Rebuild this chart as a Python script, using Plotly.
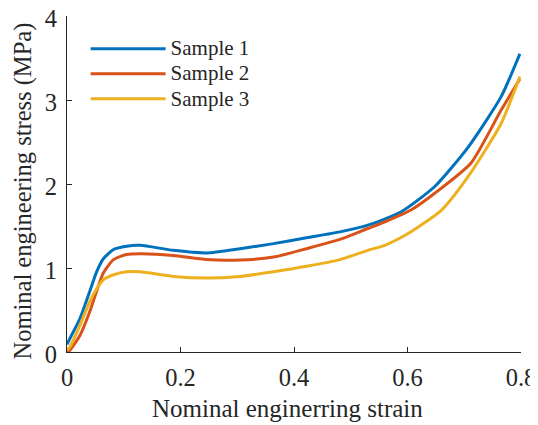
import plotly.graph_objects as go

series_names = ["Sample 1", "Sample 2", "Sample 3"]
colors = ["#0072BD", "#D95319", "#EDB120"]

x1 = [0, 0.005, 0.023, 0.040, 0.052, 0.064, 0.082, 0.105, 0.129, 0.187, 0.246, 0.305, 0.364, 0.422, 0.481, 0.53, 0.589, 0.648, 0.707, 0.765, 0.798]
y1 = [0.09, 0.16, 0.40, 0.72, 0.95, 1.11, 1.22, 1.26, 1.27, 1.21, 1.18, 1.23, 1.29, 1.36, 1.43, 1.51, 1.67, 1.97, 2.44, 3.04, 3.55]

x2 = [0, 0.005, 0.023, 0.040, 0.052, 0.064, 0.082, 0.105, 0.129, 0.187, 0.246, 0.305, 0.364, 0.422, 0.481, 0.53, 0.56, 0.606, 0.648, 0.712, 0.765, 0.798]
y2 = [0, 0.02, 0.20, 0.48, 0.72, 0.94, 1.10, 1.16, 1.17, 1.15, 1.10, 1.095, 1.13, 1.23, 1.34, 1.47, 1.55, 1.69, 1.89, 2.25, 2.88, 3.25]

x3 = [0, 0.005, 0.023, 0.040, 0.052, 0.064, 0.082, 0.105, 0.129, 0.187, 0.246, 0.305, 0.364, 0.422, 0.481, 0.53, 0.56, 0.601, 0.66, 0.707, 0.765, 0.798]
y3 = [0.02, 0.06, 0.32, 0.60, 0.75, 0.86, 0.92, 0.955, 0.955, 0.90, 0.88, 0.90, 0.955, 1.02, 1.10, 1.21, 1.27, 1.41, 1.69, 2.09, 2.72, 3.28]

x_ticks = [0, 0.2, 0.4, 0.6, 0.8]
x_tick_labels = ["0", "0.2", "0.4", "0.6", "0.8"]
y_ticks = [0, 1, 2, 3, 4]
y_tick_labels = ["0", "1", "2", "3", "4"]

x_title = "Nominal enginerring strain"
y_title = "Nominal engineering stress (MPa)"

FONT = "Liberation Serif, Times New Roman, serif"
TXT = "#262626"

fig = go.Figure()
for name, xs, ys, c in zip(series_names, [x1, x2, x3], [y1, y2, y3], colors):
    fig.add_trace(go.Scatter(x=xs, y=ys, mode="lines",
                             name="<span style='font-size:21px'>%s</span>" % name,
                             line=dict(color=c, width=3, shape="spline", smoothing=0.6)))

fig.add_annotation(text=x_title, xref="paper", yref="paper", x=0.4846, y=0,
                   xanchor="center", yanchor="middle", yshift=-56, showarrow=False,
                   font=dict(size=25, family=FONT, color=TXT))
fig.add_annotation(text=y_title, xref="paper", yref="paper", x=-0.0969, y=0.4777,
                   xanchor="center", yanchor="middle", textangle=-90, showarrow=False,
                   font=dict(size=24.5, family=FONT, color=TXT))

fig.update_layout(
    width=530, height=417,
    margin=dict(l=59, r=17, t=8, b=73),
    paper_bgcolor="white", plot_bgcolor="white",
    font=dict(family=FONT, color=TXT, size=24),
    showlegend=True,
    legend=dict(x=0.041, y=0.955, xanchor="left", yanchor="top",
                bgcolor="rgba(0,0,0,0)", font=dict(size=17, family=FONT, color=TXT),
                itemwidth=75, tracegroupgap=0),
    xaxis=dict(range=[0, 0.8], tickvals=x_ticks, ticktext=x_tick_labels,
               ticks="inside", ticklen=5, tickcolor=TXT, tickwidth=1, ticklabelstandoff=4,
               showline=True, linecolor=TXT, linewidth=1, showgrid=False, zeroline=False,
               automargin=False, ticklabeloverflow="allow",
               tickfont=dict(size=24.5, family=FONT, color=TXT)),
    yaxis=dict(range=[0, 4], tickvals=y_ticks, ticktext=y_tick_labels,
               ticks="inside", ticklen=5, tickcolor=TXT, tickwidth=1, ticklabelstandoff=4,
               ticklabelshift=2,
               showline=True, linecolor=TXT, linewidth=1, showgrid=False, zeroline=False,
               automargin=False, ticklabeloverflow="allow",
               tickfont=dict(size=24.5, family=FONT, color=TXT)),
)

fig.write_html("out.html")
